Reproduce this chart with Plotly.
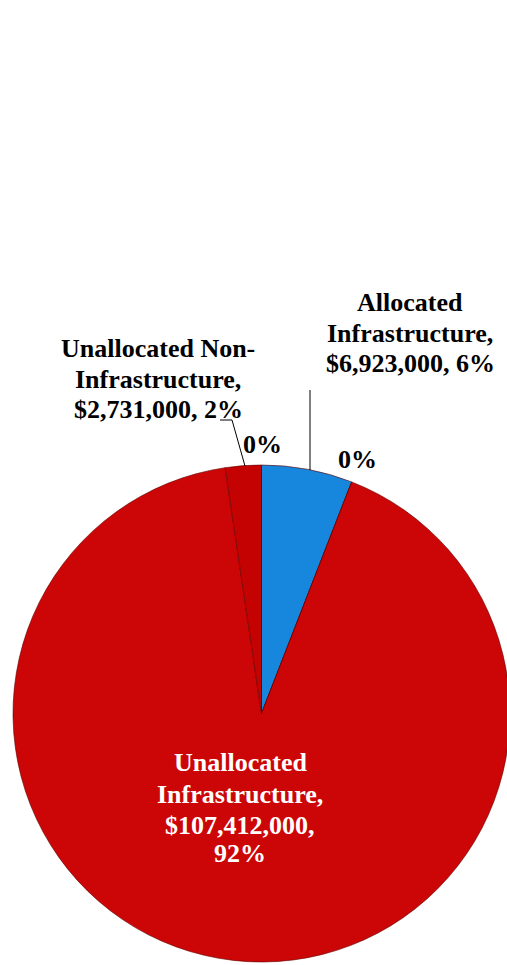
import plotly.graph_objects as go

# ---- data ----
categories = ["Allocated Infrastructure", "Allocated Non-Infrastructure",
              "Unallocated Infrastructure", "Unallocated Non-Infrastructure", "Other"]
values = [6923000, 0, 107412000, 2731000, 0]

# ---- styles ----
slice_colors = ["#1687dc", "#1687dc", "#cc0606", "#c40202", "#c40202"]
W, H = 512, 965  # slightly wider than the 507px window; the overflow is hidden (pie is clipped at right like the reference)

def xp(px):
    return px / W

def yp(py):
    return 1 - py / H

total = sum(values)
pcts = [round(v / total * 100) for v in values]

def money(v):
    return f"${v:,.0f}"

fig = go.Figure()
fig.add_trace(go.Pie(
    labels=categories, values=values, sort=False, direction="clockwise", rotation=0,
    marker=dict(colors=slice_colors, line=dict(color="rgba(100,0,0,0.6)", width=1)),
    textinfo="none", hoverinfo="label+value+percent", showlegend=False,
    domain=dict(x=[xp(13), xp(510)], y=[yp(962), yp(465)]),
))

FAM = "Liberation Serif, Times New Roman, serif"
font_dark = dict(family=FAM, size=26, color="#000000")
font_white = dict(family=FAM, size=26, color="#ffffff")

# label blocks: lines, centre x (page px), line centre ys (page px), font
blocks = [
    (["Allocated", "Infrastructure,", f"{money(values[0])}, {pcts[0]}%"],
     410, [302, 333, 363], font_dark),
    (["Unallocated Non-", "Infrastructure,", f"{money(values[3])}, {pcts[3]}%"],
     158, [348, 379, 409], font_dark),
    ([f"{pcts[1]}%"], 357, [459], font_dark),
    ([f"{pcts[4]}%"], 262, [444], font_dark),
    (["Unallocated", "Infrastructure,", f"{money(values[2])},", f"{pcts[2]}%"],
     240, [762, 794, 825, 853], font_white),
]

for lines_, cx, ys, fnt in blocks:
    for txt, cy in zip(lines_, ys):
        fig.add_annotation(text=f"<b>{txt}</b>", x=xp(cx), y=yp(cy), xref="paper", yref="paper",
                           xanchor="center", yanchor="middle", showarrow=False, font=fnt)

# leader lines (page px)
leaders = [
    (310, 390, 310, 470),
    (220, 420, 232, 420),
    (232, 420, 245, 466),
]
for x0, y0, x1, y1 in leaders:
    fig.add_shape(type="line", xref="paper", yref="paper",
                  x0=xp(x0), y0=yp(y0), x1=xp(x1), y1=yp(y1),
                  line=dict(color="#000000", width=1))

fig.update_layout(width=W, height=H, margin=dict(l=0, r=0, t=0, b=0),
                  paper_bgcolor="white", plot_bgcolor="white")
fig.write_html("out.html", config={"displayModeBar": False},
               post_script="document.body.style.margin='0';document.body.style.overflow='hidden';")
